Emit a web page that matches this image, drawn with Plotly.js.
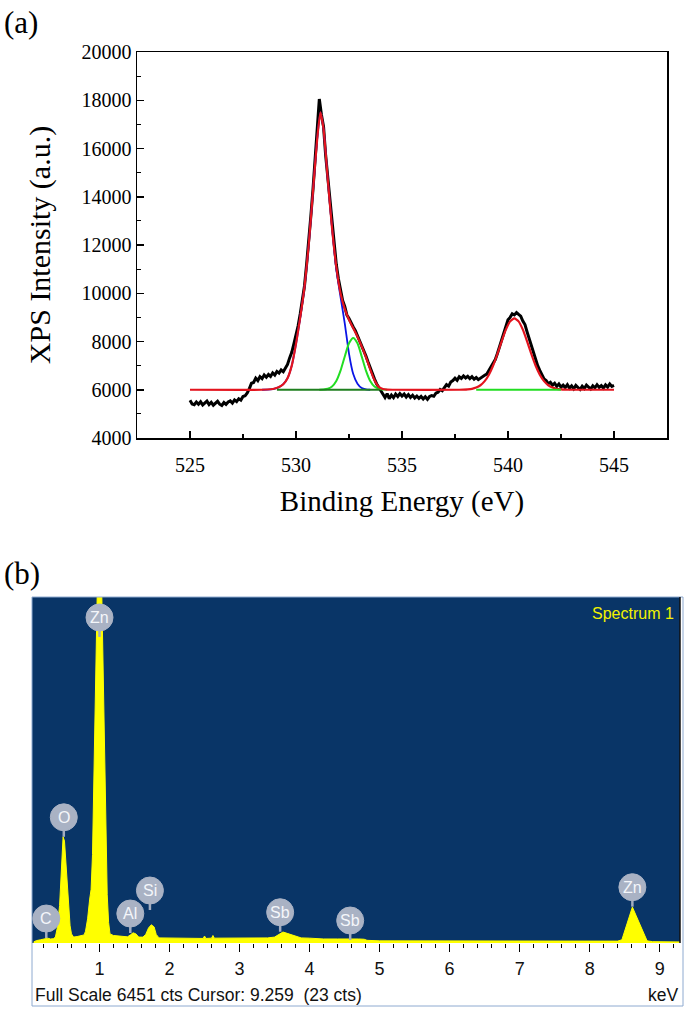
<!DOCTYPE html>
<html>
<head>
<meta charset="utf-8">
<script src="https://cdn.plot.ly/plotly-3.0.1.min.js"></script>
<style>html,body{margin:0;padding:0;background:#fff;}#chart{width:685px;height:1010px;}</style>
</head>
<body>
<div id="chart"></div>
<script>
// ---------- (a) XPS O 1s data ----------
const xpsEnergyStart = 525;
const xpsEnergyStep = 0.1;
const xpsIntensity = [
  5560, 5410, 5380, 5490, 5400, 5500, 5370, 5460, 5530, 5390,
  5480, 5360, 5450, 5520, 5400, 5350, 5470, 5390, 5490, 5540,
  5450, 5580, 5510, 5630, 5570, 5720, 5750, 5870, 6050, 6270,
  6300, 6480, 6380, 6540, 6460, 6610, 6520, 6630, 6550, 6700,
  6610, 6760, 6690, 6820, 6750, 6920, 7050, 7320, 7550, 7900,
  8250, 8650, 9150, 9700, 10300, 11200, 12100, 13200, 14300, 15500,
  16700, 18050, 17400, 16900, 15700, 14800, 13600, 12800, 11900, 11200,
  10600, 10100, 9700, 9450, 9100, 8950, 8750, 8600, 8450, 8250,
  8050, 7850, 7600, 7400, 7150, 6900, 6650, 6450, 6250, 6100,
  5980, 5850, 5680, 5840, 5630, 5780, 5670, 5820, 5720, 5840,
  5740, 5820, 5700, 5800, 5680, 5770, 5660, 5740, 5640, 5720,
  5620, 5710, 5600, 5720, 5760, 5730, 5860, 5900, 6010, 5960,
  6110, 6210, 6150, 6320, 6380, 6480, 6390, 6540, 6470, 6570,
  6490, 6560, 6460, 6540, 6440, 6510, 6420, 6490, 6530, 6600,
  6650, 6800, 6900, 7050, 7250, 7500, 7800, 8100, 8400, 8650,
  8900, 9000, 9150, 9100, 9200, 9120, 9050, 8850, 8700, 8400,
  8100, 7800, 7500, 7250, 7000, 6800, 6600, 6450, 6380, 6250,
  6310, 6190, 6270, 6140, 6240, 6110, 6190, 6090, 6210, 6070,
  6160, 6040, 6180, 6090, 6010, 6150, 6050, 6190, 6090, 6030,
  6160, 6080, 6210, 6100, 6170, 6070, 6200, 6110, 6240, 6140,
  6180
];

// envelope fit (red)
const envelopeEnergy = [525, 528.4, 528.8, 529.0, 529.2, 529.4, 529.6, 529.8, 530.0, 530.2, 530.4, 530.6, 530.8, 531.0, 531.15,
  531.3, 531.5, 531.7, 531.9, 532.1, 532.3, 532.5, 532.7, 532.9, 533.1, 533.3, 533.5, 533.7, 533.9, 534.1, 534.3, 534.6,
  537.7, 537.9, 538.1, 538.3, 538.5, 538.7, 538.9, 539.1, 539.3, 539.5, 539.7, 539.9, 540.1, 540.3,
  540.5, 540.7, 540.9, 541.1, 541.3, 541.5, 541.7, 541.9, 542.1, 542.3, 542.5, 542.7, 542.9, 545];
const envelopeIntensity = [6000, 6000, 6020, 6050, 6110, 6230, 6480, 7000, 7900, 9000, 10250, 12000, 14200, 16400, 17500,
  16800, 14700, 12700, 11100, 10000, 9350, 8900, 8550, 8200, 7800, 7350, 6850, 6400, 6120, 6030, 6005, 6000,
  6000, 6006, 6016, 6039, 6089, 6186, 6356, 6624, 7004, 7482, 8006, 8490, 8835, 8960,
  8835, 8490, 8006, 7482, 7004, 6624, 6356, 6186, 6089, 6039, 6016, 6006, 6000, 6000];

// component 1 (blue)
const comp1Energy = [528.4, 528.8, 529.0, 529.2, 529.4, 529.6, 529.8, 530.0, 530.2, 530.4, 530.6, 530.8, 531.0, 531.15,
  531.3, 531.5, 531.7, 531.9, 532.1, 532.3, 532.5, 532.7, 532.9, 533.1, 533.3, 533.5];
const comp1Intensity = [6000, 6020, 6050, 6110, 6230, 6480, 7000, 7900, 9000, 10250, 12000, 14200, 16400, 17500,
  16800, 14700, 12700, 11000, 9850, 8750, 7500, 6650, 6250, 6070, 6015, 6000];

// component 2 (green)
const comp2Energy = [531.1, 531.3, 531.5, 531.7, 531.9, 532.1, 532.3, 532.5, 532.7, 532.9, 533.1, 533.3, 533.5, 533.7, 533.9, 534.1, 534.3];
const comp2Intensity = [6002, 6009, 6039, 6134, 6363, 6791, 7379, 7924, 8150, 7924, 7379, 6791, 6363, 6134, 6039, 6009, 6002];

// background lines
const baseline1Energy = [529.1, 533.95];
const baseline1Intensity = [6000, 6000];
const baseline2Energy = [538.5, 542.5];
const baseline2Intensity = [6000, 6000];

// ---------- (b) EDS spectrum ----------
const edsEnergy = [0.06, 0.10, 0.16, 0.22, 0.26, 0.30, 0.34, 0.37, 0.40, 0.43, 0.46, 0.48, 0.50, 0.52, 0.54, 0.56, 0.58, 0.60,
  0.63, 0.68, 0.74, 0.78, 0.80, 0.83, 0.86, 0.88, 0.90, 0.92, 0.94, 0.96, 0.97, 1.03, 1.05, 1.07, 1.09, 1.11, 1.13, 1.15,
  1.20, 1.30, 1.40, 1.44, 1.48, 1.52, 1.56, 1.62, 1.66, 1.70, 1.74, 1.78, 1.81, 1.85, 1.95, 2.10, 2.30, 2.48, 2.50, 2.52,
  2.60, 2.62, 2.64, 2.80, 3.00, 3.20, 3.40, 3.50, 3.56, 3.62, 3.68, 3.74, 3.80, 3.88, 4.00, 4.20, 4.40, 4.58, 4.70, 4.78,
  4.82, 5.00, 5.40, 6.00, 6.50, 7.00, 7.50, 8.00, 8.40, 8.46, 8.52, 8.58, 8.61, 8.66, 8.72, 8.78, 8.82, 8.90, 9.29];
const edsCounts = [20, 45, 60, 75, 90, 75, 80, 110, 300, 700, 1400, 1980, 1900, 1550, 1150, 700, 320, 170,
  110, 120, 130, 150, 220, 450, 820, 1000, 1650, 3200, 4900, 6300, 6700, 6700, 5200, 3200, 1850, 900, 380, 170,
  140, 125, 115, 150, 190, 170, 110, 110, 160, 280, 340, 300, 160, 95, 95, 90, 90, 85, 130, 85,
  90, 140, 90, 90, 90, 95, 95, 110, 160, 205, 180, 150, 120, 95, 90, 75, 75, 80, 75, 70,
  50, 40, 38, 35, 35, 35, 33, 33, 35, 60, 300, 560, 670, 520, 330, 140, 40, 25, 20];
const edsFullScale = 6451;

const peakLabels = ['C', 'O', 'Zn', 'Al', 'Si', 'Sb', 'Sb', 'Zn'];
const peakLabelEnergy = [0.24, 0.49, 1.0, 1.44, 1.72, 3.58, 4.58, 8.61];
const peakLabelCounts = [93, 1980, 5706, 186, 615, 210, 56, 677];

const edsTickLabels = ['1', '2', '3', '4', '5', '6', '7', '8', '9'];
const edsTickValues = [1, 2, 3, 4, 5, 6, 7, 8, 9];

// ---------- build ----------
const serif = 'Liberation Serif, Times New Roman, serif';
const sans = 'Liberation Sans, Arial, sans-serif';

const traces = [
  {x0: xpsEnergyStart, dx: xpsEnergyStep, y: xpsIntensity, type: 'scatter', mode: 'lines',
   line: {color: '#000000', width: 3}, xaxis: 'x', yaxis: 'y'},
  {x: comp1Energy, y: comp1Intensity, type: 'scatter', mode: 'lines',
   line: {color: '#0a14e6', width: 1.8, shape: 'spline', smoothing: 0.6}, xaxis: 'x', yaxis: 'y'},
  {x: comp2Energy, y: comp2Intensity, type: 'scatter', mode: 'lines',
   line: {color: '#22dd22', width: 2, shape: 'spline', smoothing: 0.6}, xaxis: 'x', yaxis: 'y'},
  {x: envelopeEnergy, y: envelopeIntensity, type: 'scatter', mode: 'lines',
   line: {color: '#e3141e', width: 2.2, shape: 'spline', smoothing: 0.5}, xaxis: 'x', yaxis: 'y'},
  {x: baseline1Energy, y: baseline1Intensity, type: 'scatter', mode: 'lines',
   line: {color: '#1f7f1f', width: 2}, xaxis: 'x', yaxis: 'y'},
  {x: baseline2Energy, y: baseline2Intensity, type: 'scatter', mode: 'lines',
   line: {color: '#22dd22', width: 2}, xaxis: 'x', yaxis: 'y'},
  {x: edsEnergy, y: edsCounts, type: 'scatter', mode: 'lines', fill: 'tozeroy',
   fillcolor: '#ffff00', line: {color: '#ffff00', width: 1}, xaxis: 'x2', yaxis: 'y2'}
];

const shapes = [
  {type: 'rect', xref: 'x2 domain', yref: 'y2 domain', x0: 0, x1: 1, y0: 0, y1: 1,
   fillcolor: '#093567', line: {width: 0}, layer: 'below'},
  {type: 'rect', xref: 'paper', yref: 'paper', x0: 32/685, x1: 683/685, y0: 4/1010, y1: 413/1010,
   fillcolor: 'rgba(0,0,0,0)', line: {color: '#8eaad0', width: 1}},
  {type: 'line', xref: 'paper', yref: 'paper', x0: 680/685, x1: 680/685, y0: 67/1010, y1: 413/1010,
   line: {color: '#111111', width: 1.5}}
];
const annotations = [
  {text: '(a)', xref: 'paper', yref: 'paper', x: 2/685, y: 1 - 22/1010, xanchor: 'left', yanchor: 'middle',
   showarrow: false, font: {family: serif, size: 31, color: '#000'}},
  {text: '(b)', xref: 'paper', yref: 'paper', x: 2/685, y: 1 - 573/1010, xanchor: 'left', yanchor: 'middle',
   showarrow: false, font: {family: serif, size: 31, color: '#000'}},
  {text: 'Spectrum 1', xref: 'paper', yref: 'paper', x: 676/685, y: 1 - 613/1010, xanchor: 'right', yanchor: 'middle',
   showarrow: false, font: {family: sans, size: 16, color: '#f2f200'}},
  {text: 'Full Scale 6451 cts Cursor: 9.259 \u00a0(23 cts)', xref: 'paper', yref: 'paper', x: 33/685, y: 1 - 995/1010,
   xanchor: 'left', yanchor: 'middle', showarrow: false, font: {family: sans, size: 17.5, color: '#111'}},
  {text: 'keV', xref: 'paper', yref: 'paper', x: 680/685, y: 1 - 995/1010, xanchor: 'right', yanchor: 'middle',
   showarrow: false, font: {family: sans, size: 17.5, color: '#111'}}
];
for (let i = 0; i < peakLabels.length; i++) {
  shapes.push({type: 'line', xref: 'x2', yref: 'y2', xsizemode: 'pixel', ysizemode: 'pixel',
    xanchor: peakLabelEnergy[i], yanchor: peakLabelCounts[i], x0: 0, x1: 0, y0: 0, y1: 10,
    line: {color: '#a3adbf', width: 2.5}});
  shapes.push({type: 'circle', xref: 'x2', yref: 'y2', xsizemode: 'pixel', ysizemode: 'pixel',
    xanchor: peakLabelEnergy[i], yanchor: peakLabelCounts[i], x0: -13.5, x1: 13.5, y0: 6, y1: 33,
    fillcolor: '#a9b2c4', line: {color: '#a9b2c4', width: 1}});
  annotations.push({text: peakLabels[i], xref: 'x2', yref: 'y2', x: peakLabelEnergy[i], y: peakLabelCounts[i],
    yshift: 19.5, showarrow: false, xanchor: 'center', yanchor: 'middle',
    font: {family: sans, size: 16, color: '#f4f6fa'}});
}

const layout = {
  width: 685, height: 1010, margin: {l: 0, r: 0, t: 0, b: 0},
  paper_bgcolor: '#ffffff', plot_bgcolor: '#ffffff', showlegend: false,
  xaxis: {domain: [137/685, 667/685], anchor: 'y', range: [522.5, 547.5],
    showline: true, mirror: true, linecolor: '#000', linewidth: 1.5,
    ticks: 'inside', ticklen: 7, tickwidth: 1.5, tickcolor: '#000', tick0: 525, dtick: 5,
    minor: {dtick: 2.5, ticks: 'inside', ticklen: 4, tickwidth: 1.2, tickcolor: '#000'},
    showgrid: false, zeroline: false, ticklabelstandoff: 8,
    tickfont: {family: serif, size: 20, color: '#000'},
    title: {text: 'Binding Energy (eV)', font: {family: serif, size: 29, color: '#000'}, standoff: 16}},
  yaxis: {domain: [1 - 438/1010, 1 - 52/1010], anchor: 'x', range: [4000, 20000],
    showline: true, mirror: true, linecolor: '#000', linewidth: 1.5,
    ticks: 'inside', ticklen: 7, tickwidth: 1.5, tickcolor: '#000', tick0: 4000, dtick: 2000, tickformat: 'd',
    minor: {dtick: 1000, ticks: 'inside', ticklen: 4, tickwidth: 1.2, tickcolor: '#000'},
    showgrid: false, zeroline: false, ticklabelstandoff: 0,
    tickfont: {family: serif, size: 20, color: '#000'},
    title: {text: 'XPS Intensity (a.u.)', font: {family: serif, size: 30, color: '#000'}, standoff: 22}},
  xaxis2: {domain: [32/685, 680/685], anchor: 'y2', range: [0.036, 9.29],
    showline: false, ticks: 'outside', ticklen: 8, tickwidth: 1, tickcolor: '#000',
    tickvals: edsTickValues, ticktext: edsTickLabels,
    minor: {dtick: 0.2, tick0: 0, ticks: 'outside', ticklen: 4, tickwidth: 1, tickcolor: '#000'},
    showgrid: false, zeroline: false, ticklabelstandoff: 1,
    tickfont: {family: sans, size: 18, color: '#111'}},
  yaxis2: {domain: [1 - 943/1010, 1 - 597/1010], anchor: 'x2', range: [0, edsFullScale], visible: false},
  shapes: shapes,
  annotations: annotations
};

Plotly.newPlot('chart', traces, layout, {staticPlot: true, displayModeBar: false});
</script>
</body>
</html>
